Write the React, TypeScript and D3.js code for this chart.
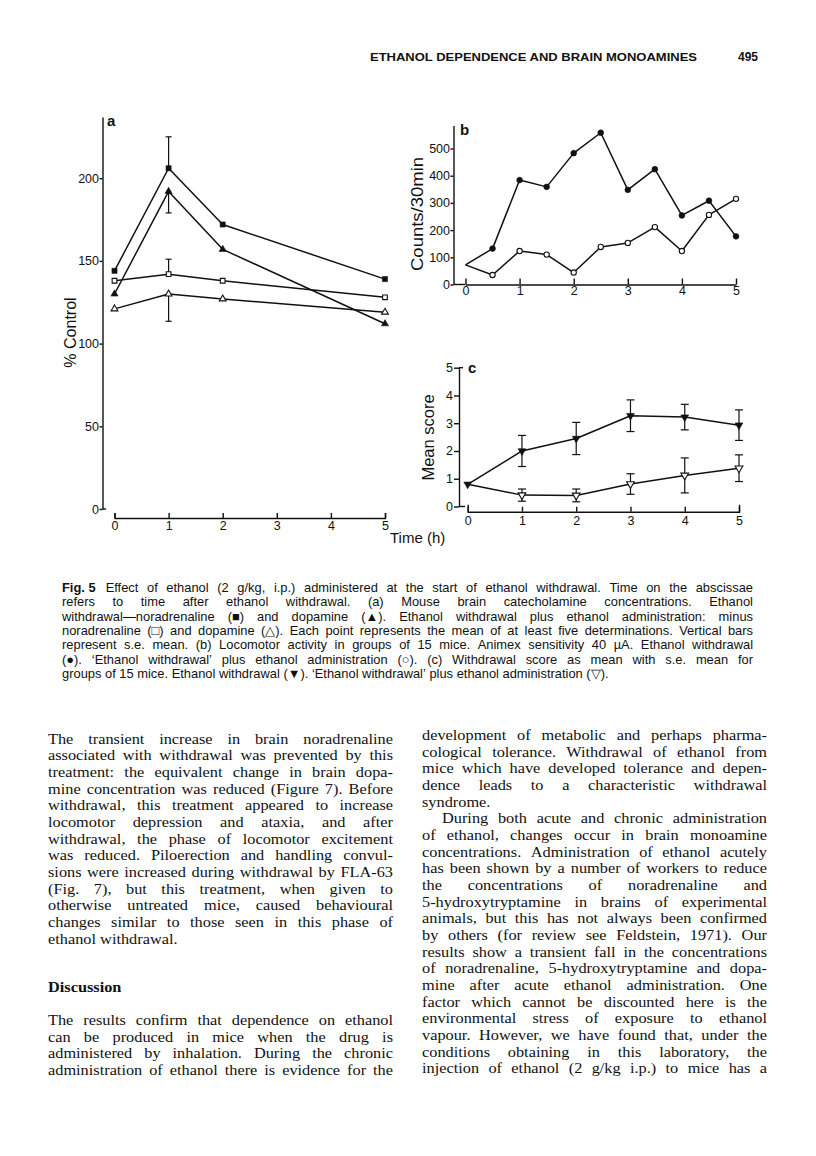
import React, { useEffect, useRef } from "react";
import * as d3 from "d3";

const SANS = "'Liberation Sans', Arial, Helvetica, sans-serif";
const SERIF = "'Liberation Serif', 'Times New Roman', Times, serif";
const INK = "#111";

// ---- panel a: brain catecholamines (% control) ----
const hoursA = [0, 1, 2, 5];
const naWithdrawal = [144, 206, 172, 139];
const daWithdrawal = [130, 192, 157, 112];
const naEthanol = [138, 142, 138, 128];
const daEthanol = [121, 130, 127, 119];
// s.e. bars, drawn one way only
const seNaWithdrawal = [0, 19, 0, 0]; // up
const seDaWithdrawal = [0, 13, 0, 0]; // down
const seNaEthanol = [0, 9, 0, 0]; // up
const seDaEthanol = [0, 16.5, 0, 0]; // down
const ticksA = [0, 50, 100, 150, 200];

// ---- panel b: locomotor activity ----
const hoursB = [0, 0.5, 1, 1.5, 2, 2.5, 3, 3.5, 4, 4.5, 5];
const countsWithdrawal = [72, 132, 384, 359, 483, 558, 348, 424, 254, 308, 177];
const countsEthanol = [72, 35, 123, 110, 44, 138, 153, 211, 123, 256, 315];
const ticksB = [0, 100, 200, 300, 400, 500];

// ---- panel c: withdrawal score ----
const hoursC = [0, 1, 2, 3, 4, 5];
const scoreWithdrawal = [0.8, 2.0, 2.45, 3.27, 3.22, 2.93];
const seScoreWithdrawal = [0, 0.56, 0.58, 0.57, 0.46, 0.55];
const scoreEthanol = [0.8, 0.41, 0.4, 0.81, 1.12, 1.38];
const seScoreEthanol = [0, 0.22, 0.23, 0.37, 0.63, 0.48];
const ticksC = [0, 1, 2, 3, 4, 5];
const hourTicks = [0, 1, 2, 3, 4, 5];

// ---- page text ----
const header = "ETHANOL DEPENDENCE AND BRAIN MONOAMINES";
const pageNo = "495";
const captionLead = "Fig. 5";
const captionLines = [
  "Effect of ethanol (2 g/kg, i.p.) administered at the start of ethanol withdrawal. Time on the abscissae",
  "refers to time after ethanol withdrawal. (a) Mouse brain catecholamine concentrations. Ethanol",
  "withdrawal\u2014noradrenaline (\u25A0) and dopamine (\u25B2). Ethanol withdrawal plus ethanol administration: minus",
  "noradrenaline (\u25A1) and dopamine (\u25B3). Each point represents the mean of at least five determinations. Vertical bars",
  "represent s.e. mean. (b) Locomotor activity in groups of 15 mice. Animex sensitivity 40 \u00B5A. Ethanol withdrawal",
  "(\u25CF). \u2018Ethanol withdrawal\u2019 plus ethanol administration (\u25CB). (c) Withdrawal score as mean with s.e. mean for",
  "groups of 15 mice. Ethanol withdrawal (\u25BC). \u2018Ethanol withdrawal\u2019 plus ethanol administration (\u25BD).",
];
const leftPara1 = [
  "The transient increase in brain noradrenaline",
  "associated with withdrawal was prevented by this",
  "treatment: the equivalent change in brain dopa-",
  "mine concentration was reduced (Figure 7). Before",
  "withdrawal, this treatment appeared to increase",
  "locomotor depression and ataxia, and after",
  "withdrawal, the phase of locomotor excitement",
  "was reduced. Piloerection and handling convul-",
  "sions were increased during withdrawal by FLA-63",
  "(Fig. 7), but this treatment, when given to",
  "otherwise untreated mice, caused behavioural",
  "changes similar to those seen in this phase of",
  "ethanol withdrawal.",
];
const discussionHead = "Discussion";
const leftPara2 = [
  "The results confirm that dependence on ethanol",
  "can be produced in mice when the drug is",
  "administered by inhalation. During the chronic",
  "administration of ethanol there is evidence for the",
];
const rightPara1 = [
  "development of metabolic and perhaps pharma-",
  "cological tolerance. Withdrawal of ethanol from",
  "mice which have developed tolerance and depen-",
  "dence leads to a characteristic withdrawal",
  "syndrome.",
];
const rightPara2 = [
  "During both acute and chronic administration",
  "of ethanol, changes occur in brain monoamine",
  "concentrations. Administration of ethanol acutely",
  "has been shown by a number of workers to reduce",
  "the concentrations of noradrenaline and",
  "5-hydroxytryptamine in brains of experimental",
  "animals, but this has not always been confirmed",
  "by others (for review see Feldstein, 1971). Our",
  "results show a transient fall in the concentrations",
  "of noradrenaline, 5-hydroxytryptamine and dopa-",
  "mine after acute ethanol administration. One",
  "factor which cannot be discounted here is the",
  "environmental stress of exposure to ethanol",
  "vapour. However, we have found that, under the",
  "conditions obtaining in this laboratory, the",
  "injection of ethanol (2 g/kg i.p.) to mice has a",
];

const BODY = 15.4;
const BODY_SX = 1.06; // the printed serif is a little wider than Liberation Serif
const CAP = 12.9;

// text measuring for justified lines
const ctx = document.createElement("canvas").getContext("2d") as CanvasRenderingContext2D;
const measure = (s: string, font: string) => {
  ctx.font = font;
  return ctx.measureText(s).width;
};

const JLine = ({ text, x0, width, y, size, family, full, bold, sx = 1 }: any) => {
  const font = `${bold ? "bold " : ""}${size}px ${family}`;
  const words = text.split(" ").filter(Boolean);
  const ws = words.map((w: string) => measure(w, font) * sx);
  const space = measure(" ", font) * sx;
  const total = d3.sum(ws);
  let gap = space;
  let k = 1;
  if (full && words.length > 1) {
    gap = (width - total) / (words.length - 1);
    if (gap < space * 0.6) {
      gap = space * 0.6;
      k = width / (total + gap * (words.length - 1));
    }
  }
  let x = 0;
  const xs = ws.map((w: number) => {
    const r = x;
    x += w + gap;
    return r;
  });
  return (
    <text
      transform={`translate(${x0},${y}) scale(${k * sx},1)`}
      fontFamily={family}
      fontSize={size}
      fontWeight={bold ? "bold" : "normal"}
      fill={INK}
    >
      {words.map((w: string, i: number) => (
        <tspan key={i} x={xs[i] / sx}>
          {w}
        </tspan>
      ))}
    </text>
  );
};

const Para = ({ lines, x0, width, y0, step, size, family, lastFull, indent = 0, sx = 1 }: any) => (
  <g>
    {lines.map((l: string, i: number) => (
      <JLine
        key={i}
        text={l}
        x0={x0 + (i === 0 ? indent : 0)}
        width={width - (i === 0 ? indent : 0)}
        y={y0 + i * step}
        size={size}
        family={family}
        sx={sx}
        full={i < lines.length - 1 || lastFull}
      />
    ))}
  </g>
);

function styleAxis(sel: any, size = 12.5) {
  sel.attr("font-family", SANS).attr("font-size", size);
  sel.selectAll("path, line").attr("stroke", INK).attr("stroke-width", 1.4);
  sel.selectAll("text").attr("fill", INK);
}

function drawLine(g: any, xs: number[], ys: number[], x: any, y: any) {
  g.append("path")
    .datum(xs.map((h, i) => [h, ys[i]]))
    .attr("d", d3.line().x((d: any) => x(d[0])).y((d: any) => y(d[1])))
    .attr("fill", "none")
    .attr("stroke", INK)
    .attr("stroke-width", 1.5)
    .attr("stroke-linejoin", "round");
}

function errorBars(g: any, xs: number[], ys: number[], se: number[], x: any, y: any, dir: number, cap: number) {
  xs.forEach((h, i) => {
    if (!se[i]) return;
    const hi = dir >= 0 ? ys[i] + se[i] : ys[i];
    const lo = dir <= 0 ? ys[i] - se[i] : ys[i];
    const cx = x(h);
    g.append("line").attr("x1", cx).attr("x2", cx).attr("y1", y(hi)).attr("y2", y(lo)).attr("stroke", INK).attr("stroke-width", 1.2);
    const caps = [];
    if (dir >= 0) caps.push(hi);
    if (dir <= 0) caps.push(lo);
    caps.forEach((v) =>
      g.append("line").attr("x1", cx - cap / 2).attr("x2", cx + cap / 2).attr("y1", y(v)).attr("y2", y(v)).attr("stroke", INK).attr("stroke-width", 1.2)
    );
  });
}

function drawMarkers(g: any, xs: number[], ys: number[], x: any, y: any, kind: string, filled: boolean, size: number, skip: number[] = []) {
  const type = kind === "square" ? d3.symbolSquare : kind === "circle" ? d3.symbolCircle : d3.symbolTriangle;
  const sym = d3.symbol().type(type).size(size);
  xs.forEach((h, i) => {
    if (skip.includes(i)) return;
    g.append("path")
      .attr("d", sym())
      .attr("transform", `translate(${x(h)},${y(ys[i])})${kind === "down" ? " rotate(180)" : ""}`)
      .attr("fill", filled ? INK : "#fff")
      .attr("stroke", INK)
      .attr("stroke-width", filled ? 0.6 : 1.1);
  });
}

const fmt = d3.format("d");

const App = () => {
  const ref = useRef<SVGGElement>(null);

  useEffect(() => {
    const g = d3.select(ref.current);
    g.selectAll("*").remove();

    // ---------- panel a ----------
    const xA = d3.scaleLinear().domain([0, 5]).range([114.5, 385]);
    const yA = d3.scaleLinear().domain([0, 237]).range([509, 117]);
    const ayA = g.append("g").attr("transform", "translate(102.5,0)")
      .call(d3.axisLeft(yA).tickValues(ticksA).tickFormat(fmt as any).tickSize(3).tickPadding(0.5).tickSizeOuter(0) as any);
    styleAxis(ayA);
    g.append("line").attr("x1", 102.5).attr("x2", 106).attr("y1", yA(0)).attr("y2", yA(0)).attr("stroke", INK).attr("stroke-width", 1.4);
    const axA = g.append("g").attr("transform", "translate(0,518)")
      .call(d3.axisBottom(xA).tickValues(hourTicks).tickFormat(fmt as any).tickSizeInner(-5).tickSizeOuter(-5).tickPadding(3.5) as any);
    styleAxis(axA);

    const pa = g.append("g");
    drawLine(pa, hoursA, naWithdrawal, xA, yA);
    drawLine(pa, hoursA, daWithdrawal, xA, yA);
    drawLine(pa, hoursA, naEthanol, xA, yA);
    drawLine(pa, hoursA, daEthanol, xA, yA);
    errorBars(pa, hoursA, naWithdrawal, seNaWithdrawal, xA, yA, 1, 6);
    errorBars(pa, hoursA, daWithdrawal, seDaWithdrawal, xA, yA, -1, 6);
    errorBars(pa, hoursA, naEthanol, seNaEthanol, xA, yA, 1, 6);
    errorBars(pa, hoursA, daEthanol, seDaEthanol, xA, yA, -1, 6);
    drawMarkers(pa, hoursA, naWithdrawal, xA, yA, "square", true, 26);
    drawMarkers(pa, hoursA, daWithdrawal, xA, yA, "triangle", true, 22);
    drawMarkers(pa, hoursA, naEthanol, xA, yA, "square", false, 22);
    drawMarkers(pa, hoursA, daEthanol, xA, yA, "triangle", false, 20);

    g.append("text").attr("x", 107).attr("y", 125.5).text("a")
      .attr("font-family", SANS).attr("font-weight", "bold").attr("font-size", 15).attr("fill", INK);
    g.append("text").attr("transform", "translate(75.5,332.5) rotate(-90)").attr("text-anchor", "middle").text("% Control")
      .attr("font-family", SANS).attr("font-size", 16).attr("fill", INK);

    // ---------- panel b ----------
    const xB = d3.scaleLinear().domain([0, 5]).range([465.5, 736]);
    const yB = d3.scaleLinear().domain([0, 585]).range([284.5, 125.4]);
    const ayB = g.append("g").attr("transform", "translate(453.5,0)")
      .call(d3.axisLeft(yB).tickValues(ticksB).tickFormat(fmt as any).tickSize(3).tickPadding(0.5).tickSizeOuter(0) as any);
    styleAxis(ayB);
    const axB = g.append("g").attr("transform", `translate(0,${yB(0)})`)
      .call(d3.axisBottom(xB).tickValues(hourTicks).tickFormat(fmt as any).tickSizeInner(-6).tickSizeOuter(0).tickPadding(2) as any);
    styleAxis(axB);
    g.append("line").attr("x1", 453.5).attr("x2", xB(0)).attr("y1", yB(0)).attr("y2", yB(0)).attr("stroke", INK).attr("stroke-width", 1.4);

    const pb = g.append("g");
    drawLine(pb, hoursB, countsWithdrawal, xB, yB);
    drawLine(pb, hoursB, countsEthanol, xB, yB);
    drawMarkers(pb, hoursB, countsWithdrawal, xB, yB, "circle", true, 26, [0]);
    drawMarkers(pb, hoursB, countsEthanol, xB, yB, "circle", false, 22, [0]);

    g.append("text").attr("x", 460).attr("y", 135).text("b")
      .attr("font-family", SANS).attr("font-weight", "bold").attr("font-size", 15).attr("fill", INK);
    g.append("text").attr("transform", "translate(423,214) rotate(-90)").attr("text-anchor", "middle").text("Counts/30min")
      .attr("textLength", 114).attr("lengthAdjust", "spacingAndGlyphs")
      .attr("font-family", SANS).attr("font-size", 16).attr("fill", INK);

    // ---------- panel c ----------
    const xC = d3.scaleLinear().domain([0, 5]).range([467.7, 739]);
    const yC = d3.scaleLinear().domain([0, 5]).range([506.5, 367.7]);
    const ayC = g.append("g").attr("transform", "translate(459,0)")
      .call(d3.axisLeft(yC).tickValues(ticksC).tickFormat(fmt as any).tickSize(5).tickPadding(1).tickSizeOuter(0) as any);
    styleAxis(ayC);
    g.append("line").attr("x1", 459).attr("x2", 465).attr("y1", yC(0)).attr("y2", yC(0)).attr("stroke", INK).attr("stroke-width", 1.4);
    g.append("line").attr("x1", 459).attr("x2", 463).attr("y1", yC(5)).attr("y2", yC(5)).attr("stroke", INK).attr("stroke-width", 1.4);
    const axC = g.append("g").attr("transform", "translate(0,511.7)")
      .call(d3.axisBottom(xC).tickValues(hourTicks).tickFormat(fmt as any).tickSizeInner(-5).tickSizeOuter(-7).tickPadding(4) as any);
    styleAxis(axC);

    const pc = g.append("g");
    drawLine(pc, hoursC, scoreWithdrawal, xC, yC);
    drawLine(pc, hoursC, scoreEthanol, xC, yC);
    errorBars(pc, hoursC, scoreWithdrawal, seScoreWithdrawal, xC, yC, 0, 8);
    errorBars(pc, hoursC, scoreEthanol, seScoreEthanol, xC, yC, 0, 8);
    drawMarkers(pc, hoursC, scoreEthanol, xC, yC, "down", false, 26, [0]);
    drawMarkers(pc, hoursC, scoreWithdrawal, xC, yC, "down", true, 26);

    g.append("text").attr("x", 468).attr("y", 373).text("c")
      .attr("font-family", SANS).attr("font-weight", "bold").attr("font-size", 15).attr("fill", INK);
    g.append("text").attr("transform", "translate(433.5,437.5) rotate(-90)").attr("text-anchor", "middle").text("Mean score")
      .attr("font-family", SANS).attr("font-size", 16.5).attr("fill", INK);
    g.append("text").attr("x", 390).attr("y", 543).text("Time (h)")
      .attr("font-family", SANS).attr("font-size", 15).attr("fill", INK);
  }, []);

  const capFont = `bold ${CAP}px ${SANS}`;
  const leadW = measure(captionLead, capFont);

  return (
    <svg width={816} height={1156} style={{ position: "absolute", left: 0, top: 0, background: "#fff" }}>
      <text x={370} y={61} fontFamily={SANS} fontWeight="bold" fontSize={11.5} textLength={327} lengthAdjust="spacingAndGlyphs" fill={INK}>
        {header}
      </text>
      <text x={738} y={61} fontFamily={SANS} fontWeight="bold" fontSize={12} fill={INK}>
        {pageNo}
      </text>

      <g ref={ref} />

      {/* caption */}
      <text x={62} y={592} fontFamily={SANS} fontWeight="bold" fontSize={CAP} fill={INK}>
        {captionLead}
      </text>
      <JLine text={captionLines[0]} x0={62 + leadW + 10} width={691 - leadW - 10} y={592} size={CAP} family={SANS} full />
      <Para lines={captionLines.slice(1)} x0={62} width={691} y0={592 + 14.35} step={14.35} size={CAP} family={SANS} />

      {/* body text */}
      <Para lines={leftPara1} x0={48} width={345} y0={743.5} step={16.67} size={BODY} sx={BODY_SX} family={SERIF} />
      <JLine text={discussionHead} x0={48} width={345} y={991.5} size={BODY} sx={BODY_SX} family={SERIF} bold />
      <Para lines={leftPara2} x0={48} width={345} y0={1025} step={16.67} size={BODY} sx={BODY_SX} family={SERIF} lastFull />
      <Para lines={rightPara1} x0={422} width={345} y0={740} step={16.67} size={BODY} sx={BODY_SX} family={SERIF} />
      <Para lines={rightPara2} x0={422} width={345} y0={740 + 5 * 16.67} step={16.67} size={BODY} sx={BODY_SX} family={SERIF} lastFull indent={20} />
    </svg>
  );
};

export default App;
